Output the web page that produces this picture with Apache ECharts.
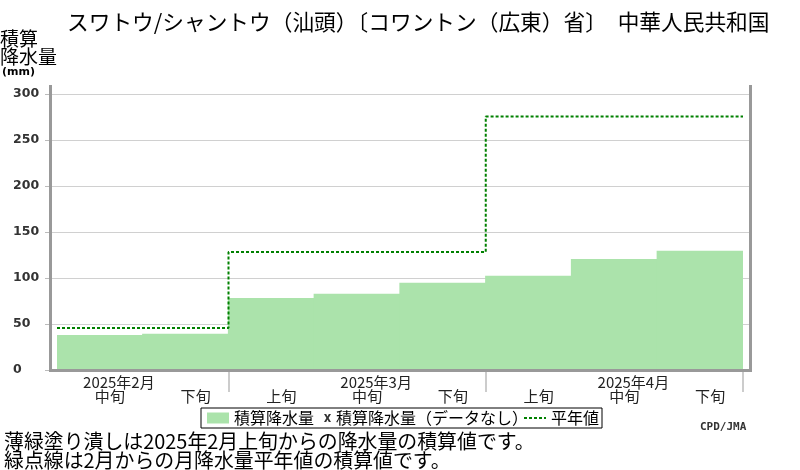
<!DOCTYPE html>
<html>
<head>
<meta charset="utf-8">
<script src="https://cdn.jsdelivr.net/npm/echarts@6/dist/echarts.min.js"></script>
<style>
  html, body { margin: 0; padding: 0; background: #fff; }
  #main { width: 800px; height: 470px; }
</style>
</head>
<body>
<div id="main"></div>
<script>
// 旬ごとの区分
var dekads = ['中旬', '下旬', '上旬', '中旬', '下旬', '上旬', '中旬', '下旬'];
var monthLabels = ['2025年2月', '', '', '2025年3月', '', '', '2025年4月', ''];
// 積算降水量 (mm)
var accum = [38.0, 39.5, 78.3, 82.9, 94.9, 102.5, 120.7, 129.7];
// 平年値の積算 (mm) と各月の開始位置(旬)
var normalMonthStart = [0, 2, 5];
var normalAccum = [45.7, 128.3, 275.5];
var yTicks = [0, 50, 100, 150, 200, 250, 300];

var jpFont = 'Noto Sans CJK JP';

var normalData = normalMonthStart.map(function (s, i) { return [s, normalAccum[i]]; });
normalData.push([dekads.length, normalAccum[normalAccum.length - 1]]);

var myChart = echarts.init(document.getElementById('main'));

var option = {
    animation: false,
    backgroundColor: '#fff',
    title: [
        {
            text: 'スワトウ/シャントウ（汕頭）〔コワントン（広東）省〕　中華人民共和国',
            left: 67, top: 11, padding: 0,
            textStyle: { fontFamily: jpFont, fontSize: 21.7, fontWeight: 'normal', color: '#000' }
        },
        {
            text: '{a|積算}\n{a|降水量}\n{b|(mm)}',
            left: 0, top: 30, padding: 0,
            textStyle: {
                rich: {
                    a: { fontFamily: jpFont, fontSize: 19, fontWeight: 'normal', lineHeight: 18, color: '#000' },
                    b: { fontFamily: 'DejaVu Sans', fontSize: 11, fontWeight: 'bold', lineHeight: 12, color: '#000', padding: [0, 0, 0, 2] }
                }
            }
        },
        {
            text: '薄緑塗り潰しは2025年2月上旬からの降水量の積算値です。\n緑点線は2月からの月降水量平年値の積算値です。',
            left: 4, top: 432, padding: 0,
            textStyle: { fontFamily: jpFont, fontSize: 19.9, lineHeight: 19, fontWeight: 'normal', color: '#000' }
        },
        {
            text: 'CPD/JMA',
            left: 700, top: 422, padding: 0,
            textStyle: { fontFamily: 'DejaVu Sans Mono', fontSize: 11, fontWeight: 'bold', color: '#333' }
        }
    ],
    legend: {
        left: 201, top: 408,
        padding: [2, 3, 2, 6],
        itemGap: -5,
        itemWidth: 22,
        itemHeight: 11,
        borderColor: '#000',
        borderWidth: 1,
        selectedMode: false,
        textStyle: { fontFamily: jpFont, fontSize: 16, lineHeight: 16, color: '#000' },
        data: [
            { name: '積算降水量', icon: 'rect' },
            { name: '積算降水量（データなし）', icon: 'path://M-15,-1.5L-15,-1.5ZM7,9.5L7,9.5ZM0,0L2.2,0L3.5,2.6L4.8,0L7,0L4.6,4L7,8L4.8,8L3.5,5.4L2.2,8L0,8L2.4,4Z' },
            { name: '平年値', itemStyle: { opacity: 0 } }
        ]
    },
    graphic: [
        {
            type: 'polyline',
            z: 100,
            shape: { points: [[50.5, 85], [50.5, 370.5], [750.5, 370.5], [750.5, 85]] },
            style: { stroke: '#999', lineWidth: 3, fill: null }
        }
    ],
    grid: [
        { left: 50, right: 50, top: 94, bottom: 100 },
        { left: 57, right: 57, top: 94, bottom: 100 }
    ],
    xAxis: [
        { gridIndex: 0, type: 'value', min: 0, max: 1, show: false },
        {
            gridIndex: 1,
            type: 'category',
            data: dekads,
            boundaryGap: true,
            axisLine: { show: false },
            splitLine: { show: false },
            axisTick: {
                show: true,
                length: 22,
                interval: function (index) { return normalMonthStart.indexOf(index) > 0; },
                lineStyle: { color: '#ccc', width: 2 }
            },
            axisLabel: {
                interval: 0,
                margin: 5,
                formatter: function (value, index) {
                    var m = monthLabels[index] ? monthLabels[index] : ' ';
                    return '{m|' + m + '}\n{d|' + value + '}';
                },
                rich: {
                    m: { fontFamily: jpFont, fontSize: 15, lineHeight: 14, color: '#222', padding: [0, 0, 0, 38] },
                    d: { fontFamily: jpFont, fontSize: 15, lineHeight: 14, color: '#222', padding: [0, 0, 0, 20] }
                }
            }
        },
        { gridIndex: 1, type: 'value', min: 0, max: dekads.length, show: false }
    ],
    yAxis: [
        {
            gridIndex: 0,
            type: 'value',
            min: yTicks[0], max: yTicks[yTicks.length - 1], interval: 50,
            axisLine: { show: false },
            axisTick: { show: true, length: 5, lineStyle: { color: '#bbb' } },
            axisLabel: {
                align: 'left', margin: 37,
                fontFamily: 'DejaVu Sans', fontSize: 12.5, fontWeight: 'bold', color: '#333'
            },
            splitLine: { lineStyle: { color: '#d0d0d0', width: 1 } }
        },
        { gridIndex: 1, type: 'value', min: yTicks[0], max: yTicks[yTicks.length - 1], show: false }
    ],
    series: [
        {
            name: '積算降水量',
            type: 'bar',
            xAxisIndex: 1, yAxisIndex: 1,
            barWidth: 87,
            itemStyle: { color: '#abe3ab', opacity: 1 },
            emphasis: { disabled: true },
            data: accum
        },
        {
            name: '積算降水量（データなし）',
            type: 'scatter',
            xAxisIndex: 1, yAxisIndex: 1,
            itemStyle: { color: '#000' },
            data: []
        },
        {
            name: '平年値',
            type: 'line',
            xAxisIndex: 2, yAxisIndex: 1,
            step: 'end',
            symbol: 'none',
            z: 5,
            lineStyle: { color: '#008000', width: 2, type: [3, 2] },
            itemStyle: { color: '#008000' },
            data: normalData
        }
    ]
};

myChart.setOption(option);
</script>
</body>
</html>
